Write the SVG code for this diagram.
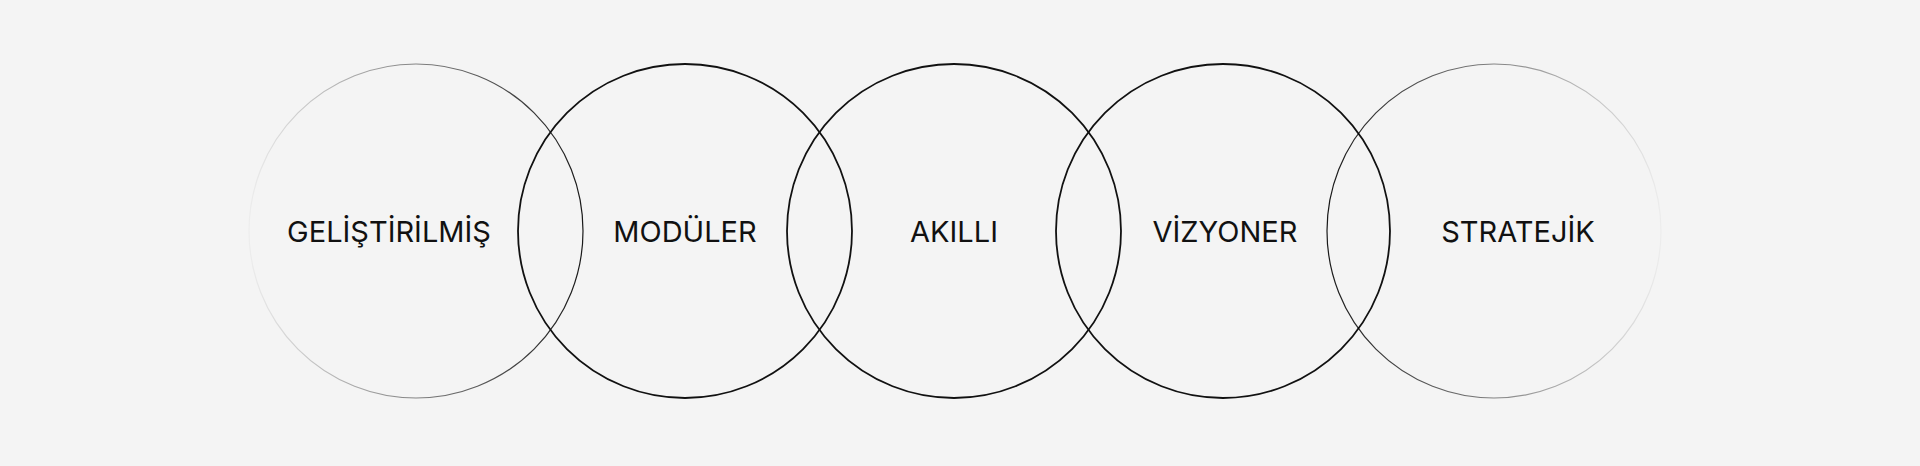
<svg xmlns="http://www.w3.org/2000/svg" width="1920" height="466" viewBox="0 0 1920 466">
<defs>
<linearGradient id="gl" x1="0" y1="0" x2="1" y2="0"><stop offset="0" stop-color="#000" stop-opacity="0.03"/><stop offset="1" stop-color="#000" stop-opacity="0.9"/></linearGradient>
<linearGradient id="gr" x1="0" y1="0" x2="1" y2="0"><stop offset="0" stop-color="#000" stop-opacity="0.9"/><stop offset="1" stop-color="#000" stop-opacity="0.03"/></linearGradient>
</defs>
<style>
circle{fill:none;stroke:#111;stroke-width:1.8}
text{font-family:Inter,"Noto Sans",sans-serif;font-size:29px;fill:#111;text-anchor:middle}
</style>
<rect width="1920" height="466" fill="#f4f4f4"/>
<g id="n1"><circle cx="416" cy="231" r="167" style="stroke:url(#gl);stroke-width:1.2"/><text x="389" y="242">GELİŞTİRİLMİŞ</text></g>
<g id="n2"><circle cx="685" cy="231" r="167"/><text x="685" y="242">MODÜLER</text></g>
<g id="n3"><circle cx="954" cy="231" r="167"/><text x="954" y="242">AKILLI</text></g>
<g id="n4"><circle cx="1223" cy="231" r="167"/><text x="1225" y="242">VİZYONER</text></g>
<g id="n5"><circle cx="1494" cy="231" r="167" style="stroke:url(#gr);stroke-width:1.2"/><text x="1518" y="242">STRATEJİK</text></g>
<g id="connectors"/>
</svg>
